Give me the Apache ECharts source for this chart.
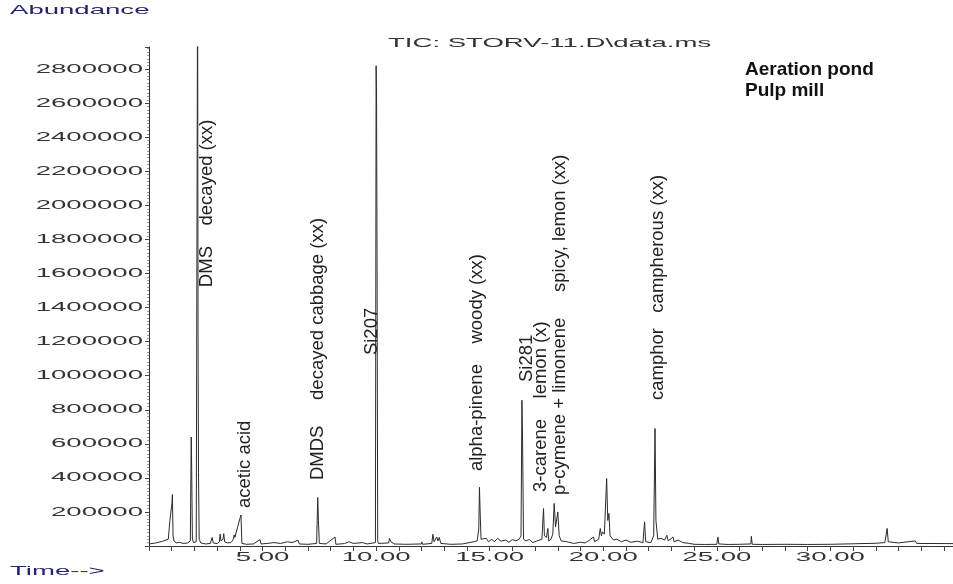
<!DOCTYPE html>
<html>
<head>
<meta charset="utf-8">
<script src="https://cdn.jsdelivr.net/npm/echarts@6/dist/echarts.min.js"></script>
<style>
  html, body { margin: 0; padding: 0; background: #ffffff; }
  #chart { width: 953px; height: 584px; }
</style>
</head>
<body>
<div id="chart"></div>
<script>
// Total ion chromatogram, retention time (min) vs abundance
const retentionTime = [
  0.00, 0.30, 0.60, 0.85, 0.90, 0.92, 0.98, 1.01, 1.03, 1.06, 1.10, 1.20, 1.35, 1.50, 1.70,
  1.82, 1.86, 1.88, 1.91, 1.96, 2.08, 2.14, 2.16, 2.18, 2.21, 2.28, 2.50, 2.70, 2.78, 2.83,
  3.00, 3.10, 3.13, 3.17, 3.26, 3.29, 3.33, 3.45, 3.60, 3.70, 3.75, 3.78, 3.90, 4.00, 4.05,
  4.09, 4.30, 4.60, 4.89, 4.93, 5.20, 5.50, 5.80, 6.10, 6.30, 6.56, 6.62, 7.00, 7.38, 7.43,
  7.46, 7.50, 7.80, 8.19, 8.23, 8.60, 8.80, 9.00, 9.40, 9.60, 9.97, 10.00, 10.02, 10.04, 10.07,
  10.10, 10.55, 10.59, 10.65, 10.80, 11.30, 12.00, 12.01, 12.05, 12.45, 12.50, 12.55, 12.67, 12.72, 12.78,
  12.85, 13.30, 13.80, 14.30, 14.45, 14.52, 14.55, 14.58, 14.62, 14.70, 14.85, 14.95, 15.10, 15.20, 15.35,
  15.50, 15.70, 15.85, 16.00, 16.15, 16.30, 16.38, 16.42, 16.45, 16.49, 16.60, 16.75, 16.90, 17.05, 17.30,
  17.37, 17.41, 17.50, 17.56, 17.60, 17.70, 17.78, 17.84, 17.90, 18.00, 18.06, 18.15, 18.40, 18.70, 19.00,
  19.20, 19.40, 19.57, 19.62, 19.80, 19.87, 19.92, 19.97, 20.05, 20.15, 20.20, 20.25, 20.30, 20.45, 20.60,
  20.80, 21.00, 21.20, 21.50, 21.75, 21.82, 21.87, 22.10, 22.22, 22.28, 22.32, 22.40, 22.55, 22.70, 22.80,
  22.86, 23.07, 23.12, 23.30, 23.50, 23.80, 24.00, 24.50, 25.00, 25.05, 25.09, 25.50, 26.00, 26.50, 26.52,
  26.56, 27.00, 28.00, 29.00, 30.00, 31.00, 32.00, 32.40, 32.50, 32.55, 33.00, 33.74, 33.80, 35.40
];
const abundance = [
  12000, 18000, 28000, 40000, 45000, 150000, 158000, 250000, 302000, 60000, 30000, 18000, 22000, 15000, 18000,
  30000, 640000, 450000, 40000, 20000, 25000, 3400000, 1220000, 430000, 40000, 18000, 12000, 15000, 50000, 18000,
  14000, 25000, 70000, 30000, 40000, 73000, 25000, 18000, 20000, 35000, 65000, 50000, 110000, 160000, 182000,
  15000, 10000, 12000, 38000, 12000, 15000, 20000, 15000, 25000, 20000, 34000, 12000, 10000, 15000, 285000,
  150000, 15000, 12000, 53000, 10000, 14000, 25000, 15000, 20000, 12000, 20000, 2820000, 2630000, 1740000, 30000,
  15000, 18000, 44000, 25000, 12000, 10000, 12000, 24000, 10000, 15000, 69000, 25000, 53000, 30000, 50000,
  15000, 10000, 12000, 25000, 30000, 100000, 345000, 200000, 40000, 30000, 45000, 25000, 40000, 25000, 45000,
  28000, 35000, 22000, 38000, 30000, 40000, 60000, 856000, 600000, 40000, 30000, 38000, 20000, 28000, 40000,
  220000, 60000, 50000, 103000, 30000, 40000, 70000, 250000, 112000, 200000, 60000, 30000, 25000, 15000, 22000,
  18000, 35000, 53000, 25000, 40000, 103000, 60000, 83000, 70000, 396000, 150000, 191000, 60000, 35000, 40000,
  25000, 35000, 22000, 28000, 20000, 142000, 25000, 20000, 60000, 690000, 150000, 40000, 45000, 35000, 63000,
  30000, 53000, 25000, 35000, 20000, 15000, 10000, 9000, 10000, 53000, 12000, 9000, 10000, 12000, 57000,
  10000, 9000, 10000, 9000, 10000, 13000, 16000, 20000, 103000, 25000, 18000, 30000, 15000, 14000
];

// Tick labels
const yTickValues = [200000, 400000, 600000, 800000, 1000000, 1200000, 1400000,
  1600000, 1800000, 2000000, 2200000, 2400000, 2600000, 2800000];
const xTickValues = [5, 10, 15, 20, 25, 30];

// Peak annotations: text and anchor (start of the rotated text) in axis units
const peakNotes = [
  { text: 'DMS    decayed (xx)', t: 2.55, v: 1520000 },
  { text: 'acetic acid', t: 4.23, v: 223000 },
  { text: 'DMDS     decayed cabbage (xx)', t: 7.42, v: 387000 },
  { text: 'Si207', t: 9.82, v: 1121000 },
  { text: 'alpha-pinene    woody (xx)', t: 14.44, v: 440000 },
  { text: 'Si281', t: 16.64, v: 963000 },
  { text: '3-carene    lemon (x)', t: 17.26, v: 317000 },
  { text: 'p-cymene + limonene     spicy, lemon (xx)', t: 18.10, v: 299000 },
  { text: 'camphor   campherous (xx)', t: 22.41, v: 857000 }
];

const titleText = 'TIC: STORV-11.D\\data.ms';
const yName = 'Abundance';
const xName = 'Time-->';
const sampleNote = ['Aeration pond', 'Pulp mill'];

const X_MIN = 0, X_MAX = 35.4, Y_MAX = 2930000;

const chart = echarts.init(document.getElementById('chart'), null, { renderer: 'canvas' });

const traceData = retentionTime.map((t, i) => [t, abundance[i]]);

chart.setOption({
  animation: false,
  backgroundColor: '#ffffff',
  grid: { left: 149, right: 0, top: 47, bottom: 38, containLabel: false },
  xAxis: {
    type: 'value', min: X_MIN, max: X_MAX, interval: 1,
    axisLine: { show: true, lineStyle: { color: '#333', width: 1 } },
    axisTick: { show: true, length: 5, lineStyle: { color: '#444', width: 1 } },
    axisLabel: { show: false },
    splitLine: { show: false }
  },
  yAxis: {
    type: 'value', min: 0, max: Y_MAX, interval: 200000,
    axisLine: { show: true, lineStyle: { color: '#333', width: 1 } },
    axisTick: { show: true, length: 4, lineStyle: { color: '#444', width: 1 } },
    minorTick: { show: true, splitNumber: 10, length: 2, lineStyle: { color: '#999', width: 1 } },
    axisLabel: { show: false },
    splitLine: { show: false }
  },
  series: [{
    type: 'line',
    data: traceData,
    showSymbol: false,
    symbol: 'none',
    clip: true,
    lineStyle: { color: '#2b2b2b', width: 1 },
    emphasis: { disabled: true }
  }]
});

// Wide instrument-style lettering for axis numbers and headings
const WIDE = 2.12;
const wideFont = '"Liberation Sans", Arial, sans-serif';
function wideText(text, x, y, align, color) {
  return {
    type: 'text', x: x, y: y, scaleX: WIDE, scaleY: 1, silent: true,
    style: {
      text: text, x: 0, y: 0, fill: color || '#333',
      fontSize: 13, fontFamily: wideFont,
      textAlign: align, textVerticalAlign: 'middle'
    }
  };
}

const toPx = (t, v) => chart.convertToPixel({ gridIndex: 0 }, [t, v]);
const graphics = [];

yTickValues.forEach(v => {
  const p = toPx(X_MIN, v);
  graphics.push(wideText(String(v), p[0] - 6, p[1], 'right', '#333'));
});
xTickValues.forEach(t => {
  const p = toPx(t, 0);
  graphics.push(wideText(t.toFixed(2), p[0], p[1] + 11, 'center', '#333'));
});

const originPx = toPx(X_MIN, 0);
const topPx = toPx(X_MIN, Y_MAX);
graphics.push(wideText(yName, 10, 10, 'left', '#26266a'));
graphics.push(wideText(xName, 10, originPx[1] + 25, 'left', '#26266a'));
graphics.push(wideText(titleText, 388, topPx[1] - 4, 'left', '#333'));

// Sample description, upper right
graphics.push({
  type: 'text', x: 745, y: 70, silent: true,
  style: { text: sampleNote[0], fill: '#111', fontSize: 19, fontWeight: 'bold',
    fontFamily: wideFont, textAlign: 'left', textVerticalAlign: 'middle' }
});
graphics.push({
  type: 'text', x: 745, y: 91, silent: true,
  style: { text: sampleNote[1], fill: '#111', fontSize: 19, fontWeight: 'bold',
    fontFamily: wideFont, textAlign: 'left', textVerticalAlign: 'middle' }
});

// Vertical compound / odour labels beside each peak
peakNotes.forEach(n => {
  const p = toPx(n.t, n.v);
  graphics.push({
    type: 'text', x: p[0], y: p[1], rotation: Math.PI / 2, silent: true,
    style: { text: n.text, fill: '#222', fontSize: 18.5, fontFamily: wideFont,
      textAlign: 'left', textVerticalAlign: 'middle' }
  });
});

chart.setOption({ graphic: graphics });
</script>
</body>
</html>
